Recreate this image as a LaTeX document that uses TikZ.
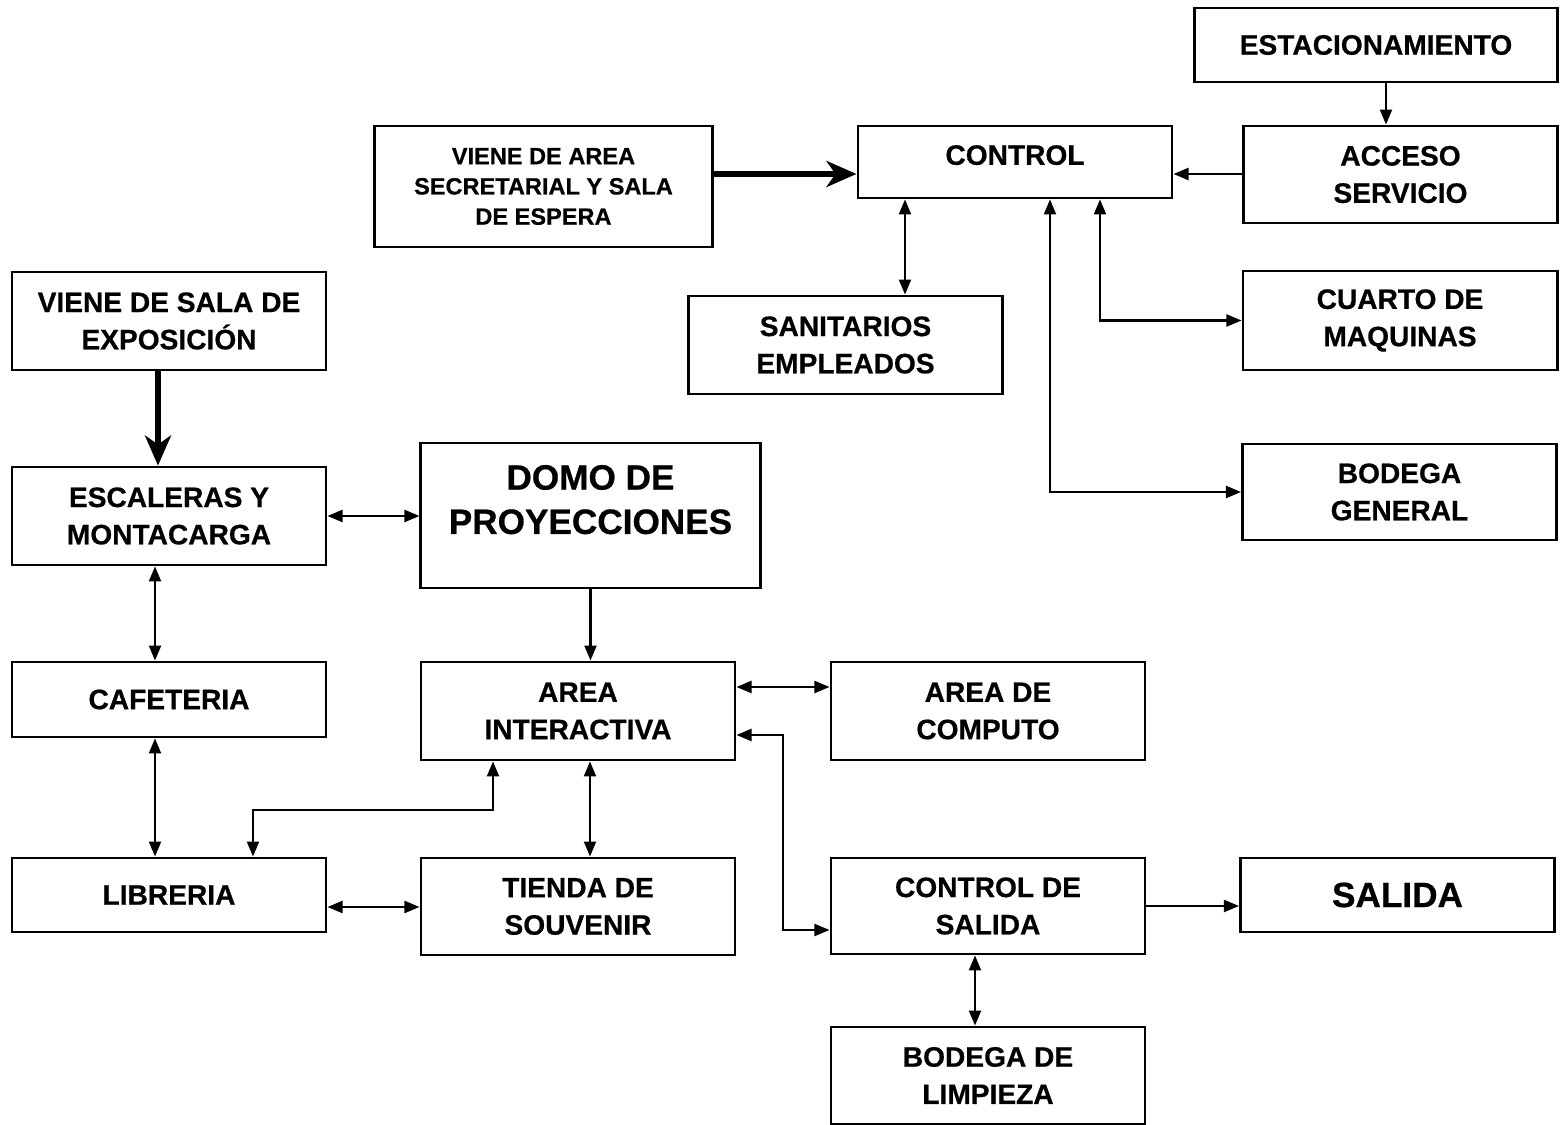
\documentclass[tikz,border=0pt]{standalone}
\usepackage{fontspec}
\setmainfont{Liberation Sans}[BoldFeatures={FakeBold=0.6}]
\usetikzlibrary{arrows.meta}

\tikzset{
  zona/.style={draw, line width=0.8pt, align=center, inner sep=2pt,
    minimum width=3.14cm, minimum height=0.97cm,
    font=\fontsize{8}{10.6}\selectfont\bfseries},
  flecha/.style={line width=0.6pt, -{Triangle[length=1.5mm,width=1.2mm]}},
  doble/.style={line width=0.6pt, {Triangle[length=1.5mm,width=1.2mm]}-{Triangle[length=1.5mm,width=1.2mm]}},
  gruesa/.style={line width=1.5pt, -{Stealth[length=3mm,width=2.6mm,inset=0.9mm]}}
}

\begin{document}
\begin{tikzpicture}[x=0.01cm, y=-0.01cm]
\useasboundingbox (0,0) rectangle (1562,1125);

% zonas de servicio
\node (est) [zona, minimum width=3.62cm, minimum height=0.74cm] at (1376,45) {ESTACIONAMIENTO};
\node (sec) [zona, minimum width=3.37cm, minimum height=1.21cm, font=\fontsize{6.7}{8.6}\selectfont\bfseries] at (543.5,186.5) {VIENE DE AREA\\SECRETARIAL Y SALA\\DE ESPERA};
\node (control) [zona, minimum height=0.72cm, text depth=0.14cm] at (1015,162) {CONTROL};
\node (acceso) [zona] at (1400.5,174.5) {ACCESO\\SERVICIO};
\node (sanit) [zona, minimum height=0.98cm] at (845.5,345) {SANITARIOS\\EMPLEADOS};
\node (cuarto) [zona, minimum height=0.99cm] at (1400,320.5) {CUARTO DE\\MAQUINAS};
\node (bodgen) [zona, minimum height=0.96cm] at (1399.5,492) {BODEGA\\GENERAL};

% zonas publicas
\node (expo) [zona, minimum height=0.98cm] at (169,321) {VIENE DE SALA DE\\EXPOSICIÓN};
\node (escal) [zona, minimum height=0.98cm] at (169,516) {ESCALERAS Y\\MONTACARGA};
\node (domo) [zona, minimum width=3.39cm, minimum height=1.45cm, text depth=0.32cm, font=\fontsize{10}{12.6}\selectfont\bfseries] at (590.5,515.5) {DOMO DE\\PROYECCIONES};
\node (cafe) [zona, minimum height=0.75cm] at (169,699.5) {CAFETERIA};
\node (inter) [zona, minimum height=0.98cm] at (578,711) {AREA\\INTERACTIVA};
\node (comp) [zona, minimum height=0.98cm] at (988,711) {AREA DE\\COMPUTO};
\node (libr) [zona, minimum height=0.74cm] at (169,895) {LIBRERIA};
\node (tienda) [zona] at (578,906.5) {TIENDA DE\\SOUVENIR};
\node (csal) [zona, minimum height=0.96cm] at (988,906) {CONTROL DE\\SALIDA};
\node (salida) [zona, minimum height=0.74cm, font=\fontsize{10}{12}\selectfont\bfseries] at (1397.5,895) {SALIDA};
\node (blimp) [zona] at (988,1075.5) {BODEGA DE\\LIMPIEZA};

% conexiones
\draw[gruesa] (sec.east |- 0,174) -- (control.west |- 0,174);
\draw[flecha] (est.south -| 1386,0) -- (acceso.north -| 1386,0);
\draw[flecha] (acceso.west |- 0,174) -- (control.east |- 0,174);
\draw[doble] (control.south -| 905,0) -- (sanit.north -| 905,0);
\draw[doble] (control.south -| 1100,0) |- (cuarto.west);
\draw[doble] (control.south -| 1050,0) |- (bodgen.west);

\draw[gruesa] (expo.south -| 158,0) -- (escal.north -| 158,0);
\draw[doble] (escal.east) -- (domo.west |- escal.east);
\draw[doble] (escal.south -| 155,0) -- (cafe.north -| 155,0);
\draw[flecha] (domo.south) -- (inter.north -| domo.south);
\draw[doble] (inter.east |- 0,687) -- (comp.west |- 0,687);
\draw[doble] (cafe.south -| 155,0) -- (libr.north -| 155,0);
\draw[doble] (inter.south -| 493,0) |- (253,810) -- (libr.north -| 253,0);
\draw[doble] (inter.south -| 590,0) -- (tienda.north -| 590,0);
\draw[doble] (libr.east |- 0,907) -- (tienda.west |- 0,907);
\draw[doble] (inter.east |- 0,735) -| (783,930) -- (csal.west |- 0,930);
\draw[flecha] (csal.east) -- (salida.west |- csal.east);
\draw[doble] (csal.south -| 975,0) -- (blimp.north -| 975,0);
\end{tikzpicture}
\end{document}
